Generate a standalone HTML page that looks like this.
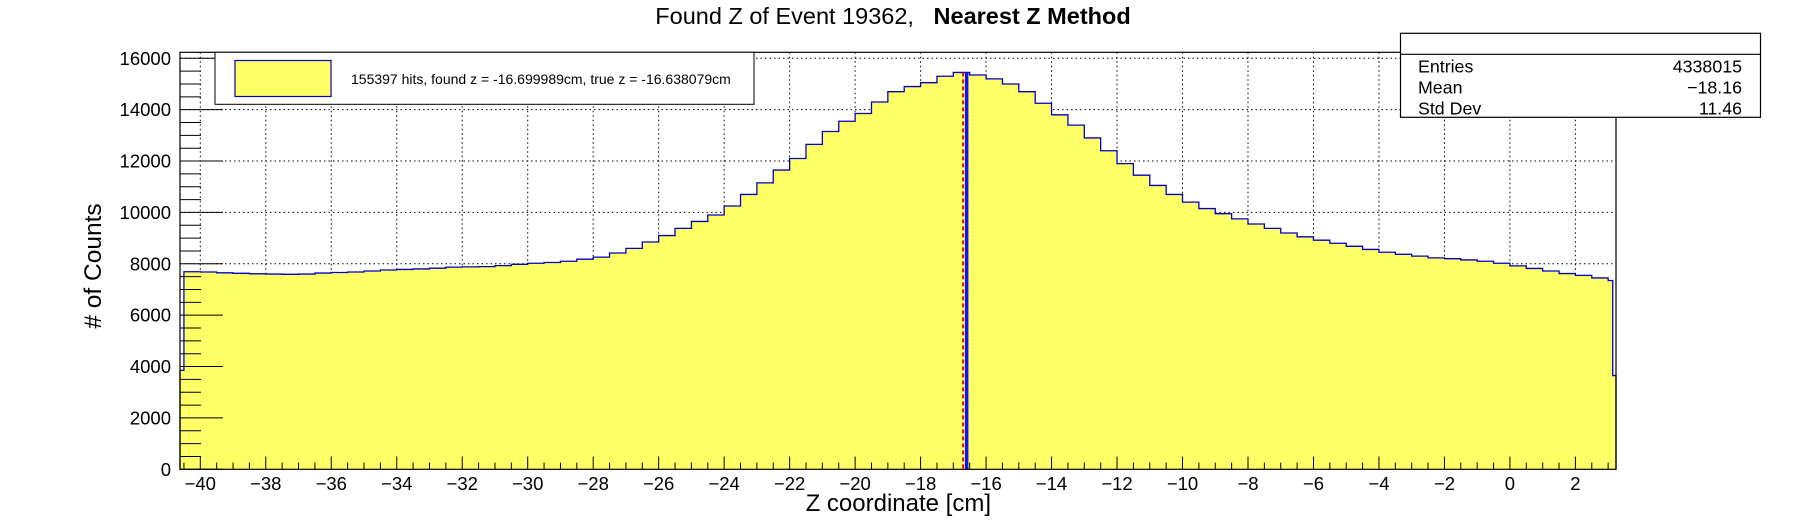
<!DOCTYPE html>
<html><head><meta charset="utf-8"><style>
html,body{margin:0;padding:0;background:#fff;}
svg{display:block;font-family:"Liberation Sans",sans-serif;}
</style></head><body>
<svg id="chart" width="1796" height="522" viewBox="0 0 1796 522" xmlns="http://www.w3.org/2000/svg">
<rect x="0" y="0" width="1796" height="522" fill="#fff"/>
<text x="893" y="24" font-size="23.5" text-anchor="middle"><tspan>Found Z of Event 19362,&#160;&#160;&#160;</tspan><tspan font-weight="bold">Nearest Z Method</tspan></text>
<g id="grid"></g>
<g id="hist"></g>
<g id="marks"></g>
<rect x="180" y="52.3" width="1436" height="417" fill="none" stroke="#000" stroke-width="1.2"/>
<g id="axes"></g>
<text transform="translate(101,266) rotate(-90)" font-size="24.5" text-anchor="middle"># of Counts</text>
<text x="991" y="511" font-size="24" text-anchor="end">Z coordinate [cm]</text>
<g>
<rect x="215" y="52.3" width="539" height="52" fill="#fff" stroke="#000" stroke-width="1"/>
<rect x="235" y="60.5" width="96" height="36" fill="#ffff66" stroke="#0000c0" stroke-width="1.2"/>
<text x="351" y="84" font-size="14">155397 hits, found z = -16.699989cm, true z = -16.638079cm</text>
</g>
<g>
<rect x="1400.5" y="33.3" width="360" height="84" fill="#fff" stroke="#000" stroke-width="1.2"/>
<line x1="1400.5" y1="54.3" x2="1760.5" y2="54.3" stroke="#000" stroke-width="1.2"/>
<text x="1418" y="72.5" font-size="17.8">Entries</text>
<text x="1742" y="72.5" font-size="17.8" text-anchor="end">4338015</text>
<text x="1418" y="93.5" font-size="17.8">Mean</text>
<text x="1742" y="93.5" font-size="17.8" text-anchor="end">−18.16</text>
<text x="1418" y="114.5" font-size="17.8">Std Dev</text>
<text x="1742" y="114.5" font-size="17.8" text-anchor="end">11.46</text>
</g>
</svg>
<script>
const binStart = -40.5;
const binWidth = 0.5;
const counts = [7690,7680,7650,7630,7610,7600,7590,7600,7640,7660,7680,7720,7760,7780,7800,7830,7870,7880,7890,7930,7980,8020,8050,8100,8180,8260,8420,8600,8850,9100,9380,9650,9900,10250,10700,11150,11650,12100,12650,13150,13550,13850,14300,14700,14900,15050,15300,15450,15350,15200,15000,14700,14250,13800,13400,12900,12400,11900,11450,11050,10700,10400,10150,9950,9750,9550,9380,9200,9050,8920,8800,8680,8560,8450,8370,8300,8230,8200,8150,8100,8020,7920,7820,7720,7620,7550,7450];
const edgeBinsLo = [-40.62, 3.0, 3.14];
const edgeBinsHi = [-40.5, 3.14, 3.24];
const edgeCounts = [3850, 7350, 3650];
const xTicks = [-40,-38,-36,-34,-32,-30,-28,-26,-24,-22,-20,-18,-16,-14,-12,-10,-8,-6,-4,-2,0,2];
const yTicks = [0,2000,4000,6000,8000,10000,12000,14000,16000];
const foundZ = -16.699989;
const trueZ = -16.638079;
const xMin = -40.62, xMax = 3.24, yMin = 0, yMax = 16000;
const L = 180, R = 1616, T = 58.3, B = 469.3;
const NS = 'http://www.w3.org/2000/svg';
function X(v){ return 200.3 + (v + 40) * (1375.1 / 42); }
function Y(v){ return B - (v - yMin) / (yMax - yMin) * (B - T); }
function mk(tag, attrs, parent){ const e = document.createElementNS(NS, tag); for (const k in attrs) e.setAttribute(k, attrs[k]); parent.appendChild(e); return e; }

const bins = [];
bins.push([edgeBinsLo[0], edgeBinsHi[0], edgeCounts[0]]);
counts.forEach((c, i) => bins.push([binStart + i * binWidth, binStart + (i + 1) * binWidth, c]));
bins.push([edgeBinsLo[1], edgeBinsHi[1], edgeCounts[1]]);
bins.push([edgeBinsLo[2], edgeBinsHi[2], edgeCounts[2]]);

const grid = document.getElementById('grid');
xTicks.forEach(t => {
  const l = mk('line', {x1: X(t), x2: X(t), y1: 52.3, y2: B, stroke: '#000', 'stroke-width': 1, 'stroke-dasharray': '1.5,3'}, grid);
  
  
});
yTicks.forEach(t => {
  const l = mk('line', {x1: L, x2: R, y1: Y(t), y2: Y(t), stroke: '#000', 'stroke-width': 1, 'stroke-dasharray': '1.5,3'}, grid);
  
  
});

const hist = document.getElementById('hist');
let d = 'M' + X(bins[0][0]) + ',' + Y(0);
bins.forEach(b => { d += ' L' + X(b[0]) + ',' + Y(b[2]) + ' L' + X(b[1]) + ',' + Y(b[2]); });
d += ' L' + X(bins[bins.length - 1][1]) + ',' + Y(0) + ' Z';
const fill = mk('path', {d: d, fill: '#ffff66', stroke: 'none'}, hist);


bins.forEach((b, i) => {
  const r = mk('rect', {x: X(b[0]), y: Y(b[2]), width: X(b[1]) - X(b[0]), height: Y(0) - Y(b[2]), fill: 'transparent'}, hist);
  
  
});
let od = 'M' + X(bins[0][0]) + ',' + Y(0);
bins.forEach(b => { od += ' L' + X(b[0]) + ',' + Y(b[2]) + ' L' + X(b[1]) + ',' + Y(b[2]); });
od += ' L' + X(bins[bins.length - 1][1]) + ',' + Y(0);
const outline = mk('path', {d: od, fill: 'none', stroke: '#0000c0', 'stroke-width': 1.3}, hist);



const marks = document.getElementById('marks');
const tl = mk('line', {x1: X(trueZ) + 1.5, x2: X(trueZ) + 1.5, y1: Y(15450), y2: B, stroke: '#1010ff', 'stroke-width': 3.5}, marks);


const fl = mk('line', {x1: X(foundZ), x2: X(foundZ), y1: Y(15450), y2: B, stroke: '#e01010', 'stroke-width': 2, 'stroke-dasharray': '4,3'}, marks);



const axes = document.getElementById('axes');
for (let v = -40.5; v <= 3.01; v += 0.5) {
  const major = Math.abs(v - Math.round(v)) < 1e-6 && Math.round(v) % 2 === 0;
  const t = mk('line', {x1: X(v), x2: X(v), y1: B, y2: B - (major ? 12.7 : 6.7), stroke: '#000', 'stroke-width': 1}, axes);
  
  
}
xTicks.forEach(t => {
  const tx = mk('text', {x: X(t), y: 490, 'font-size': 18.5, 'text-anchor': 'middle'}, axes);
  tx.textContent = t < 0 ? '−' + Math.abs(t) : String(t);
  
  
});
for (let v = 0; v <= 16000; v += 500) {
  const major = v % 2000 === 0;
  const t = mk('line', {x1: L, x2: L + (major ? 43 : 21), y1: Y(v), y2: Y(v), stroke: '#000', 'stroke-width': 1}, axes);
  
  
}
yTicks.forEach(t => {
  const tx = mk('text', {x: 171, y: Y(t) + 6.5, 'font-size': 18.5, 'text-anchor': 'end'}, axes);
  tx.textContent = String(t);
  
  
});
</script>
</body></html>
